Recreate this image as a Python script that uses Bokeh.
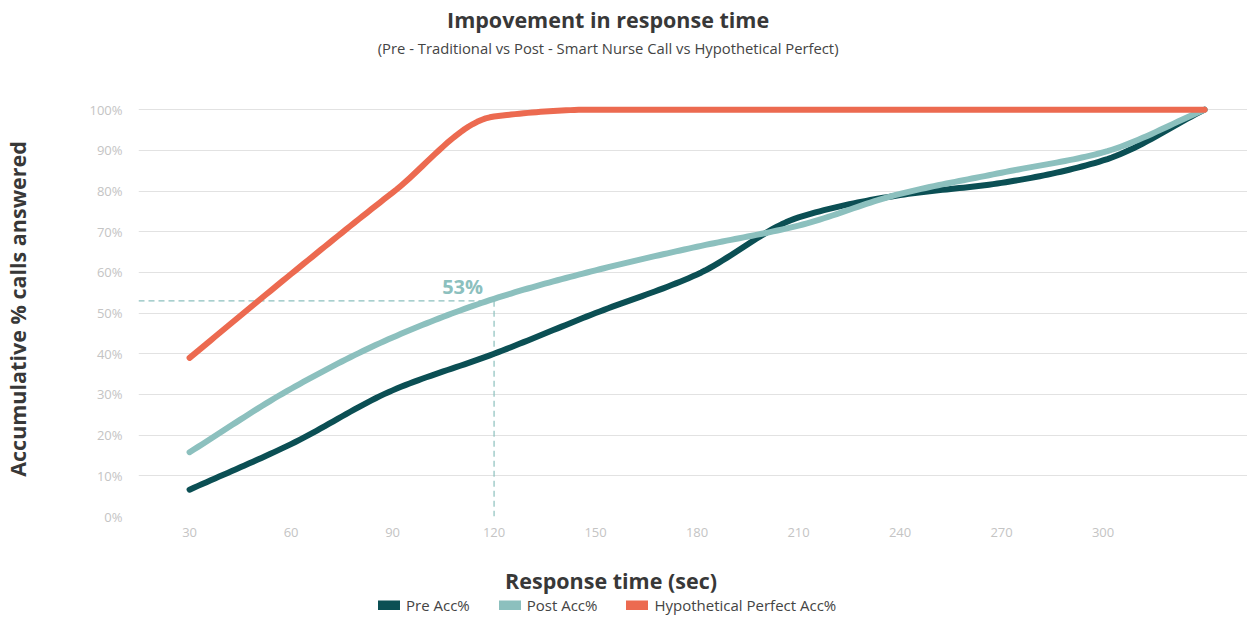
import numpy as np
from bokeh.plotting import figure
from bokeh.layouts import column
from bokeh.models import Range1d, FixedTicker, Legend, LegendItem, Label
from bokeh.embed import file_html
from bokeh.resources import INLINE

# ---------------- data ----------------
seconds = [30, 60, 90, 120, 150, 180, 210, 240, 270, 300, 330]
pre_acc = [6.6, 17.8, 31, 40, 50, 59.5, 73.5, 79, 82, 87.5, 100]
post_acc = [15.8, 31.4, 44, 53.5, 60.5, 66.3, 71.5, 79.3, 84.5, 89.5, 100]
perfect_acc = [39, 59.6, 79.6, 98.3, 100, 100, 100, 100, 100, 100, 100]
x_tick_values = [30, 60, 90, 120, 150, 180, 210, 240, 270, 300]
y_tick_values = [0, 10, 20, 30, 40, 50, 60, 70, 80, 90, 100]
y_tick_labels = ["0%", "10%", "20%", "30%", "40%", "50%", "60%", "70%", "80%", "90%", "100%"]
series_names = ["Pre Acc%", "Post Acc%", "Hypothetical Perfect Acc%"]
marker_x = 120
marker_y = 53
marker_text = "53%"

title_text = "Impovement in response time"
subtitle_text = "(Pre - Traditional vs Post - Smart Nurse Call vs Hypothetical Perfect)"
x_title = "Response time (sec)"
y_title = "Accumulative % calls answered"

# ---------------- style / layout ----------------
FONT = "Open Sans"
C_PRE = "#0b4f54"
C_POST = "#8cc0be"
C_PERF = "#ec6a50"
C_TEXT = "#383838"
C_TICK = "#c4c4c4"
C_GRID = "#e2e2e2"
COLORS = [C_PRE, C_POST, C_PERF]

W = 1239
TOP_H = 93
BOT_H = 71
FRAME_W, FRAME_H = 1109, 415
X0, X1 = 14.9, 342.7
Y0, Y1 = 0, 102


def smooth(xs, ys, n=24):
    """Monotone cubic (Fritsch-Carlson) path through the given points, for drawing."""
    xs = np.asarray(xs, float)
    ys = np.asarray(ys, float)
    h = np.diff(xs)
    d = np.diff(ys) / h
    m = np.zeros_like(ys)
    m[0], m[-1] = d[0], d[-1]
    for i in range(1, len(xs) - 1):
        if d[i - 1] * d[i] <= 0:
            m[i] = 0
        else:
            w1 = 2 * h[i] + h[i - 1]
            w2 = h[i] + 2 * h[i - 1]
            m[i] = (w1 + w2) / (w1 / d[i - 1] + w2 / d[i])
    px, py = [], []
    for i in range(len(xs) - 1):
        t = np.linspace(0, 1, n, endpoint=(i == len(xs) - 2))
        h00 = 2 * t**3 - 3 * t**2 + 1
        h10 = t**3 - 2 * t**2 + t
        h01 = -2 * t**3 + 3 * t**2
        h11 = t**3 - t**2
        px.extend(xs[i] + t * h[i])
        py.extend(h00 * ys[i] + h10 * h[i] * m[i] + h01 * ys[i + 1] + h11 * h[i] * m[i + 1])
    return px, py


def blank(height):
    # frames of a column are aligned with the main chart's frame (x: FRAME_W px wide)
    f = figure(width=W, height=height, x_range=Range1d(0, FRAME_W), y_range=Range1d(0, height),
               output_backend="svg", toolbar_location=None,
               x_axis_location=None, y_axis_location=None,
               min_border=0, background_fill_color="white", border_fill_color="white")
    f.outline_line_color = None
    f.grid.visible = False
    return f


# ---------------- title strip ----------------
top = blank(TOP_H)
top.add_layout(Label(x=473, y=TOP_H - 19, text=title_text, text_align="center",
                     text_baseline="middle", text_font=FONT, text_font_size="21.5px",
                     text_font_style="bold", text_color=C_TEXT))
top.add_layout(Label(x=473, y=TOP_H - 47, text=subtitle_text, text_align="center",
                     text_baseline="middle", text_font=FONT, text_font_size="14.8px",
                     text_color="#444444"))

# ---------------- main chart ----------------
p = figure(
    frame_width=FRAME_W, frame_height=FRAME_H,
    x_range=Range1d(X0, X1), y_range=Range1d(Y0, Y1),
    output_backend="svg", toolbar_location=None,
    min_border_left=10, min_border_right=0, min_border_top=8, min_border_bottom=32,
    background_fill_color="white", border_fill_color="white",
)
p.outline_line_color = None

p.xaxis.ticker = FixedTicker(ticks=x_tick_values)
p.yaxis.ticker = FixedTicker(ticks=y_tick_values)
p.yaxis.major_label_overrides = {v: s for v, s in zip(y_tick_values, y_tick_labels)}
for ax in (p.xaxis[0], p.yaxis[0]):
    ax.axis_line_color = None
    ax.major_tick_line_color = None
    ax.minor_tick_line_color = None
    ax.major_label_text_font = FONT
    ax.major_label_text_font_size = "13px"
    ax.major_label_text_color = C_TICK
    ax.axis_label_text_font = FONT
    ax.axis_label_text_font_size = "21.5px"
    ax.axis_label_text_font_style = "bold"
    ax.axis_label_text_color = C_TEXT
p.yaxis.axis_label = y_title
p.xaxis.major_label_standoff = 5
p.yaxis.major_label_standoff = 10
p.yaxis.axis_label_standoff = 54

p.xgrid.grid_line_color = None
p.ygrid.grid_line_color = C_GRID
p.ygrid.grid_line_width = 1

# annotation dashed guides
p.line([X0, marker_x], [marker_y, marker_y], line_color=C_POST,
       line_width=1.2, line_dash="6 4")
p.line([marker_x, marker_x], [marker_y, 0], line_color=C_POST,
       line_width=1.2, line_dash="6 4")

for ys, col in zip([pre_acc, post_acc, perfect_acc], COLORS):
    sx, sy = smooth(seconds, ys)
    p.line(sx, sy, line_color=col, line_width=6, line_cap="round", line_join="round")

p.add_layout(Label(x=marker_x, y=marker_y, x_offset=-11, y_offset=1, text=marker_text,
                   text_align="right", text_baseline="bottom", text_font=FONT,
                   text_font_size="20px", text_font_style="bold", text_color=C_POST))

# ---------------- x title + legend strip ----------------
bot = blank(BOT_H)
bot.add_layout(Label(x=476, y=BOT_H - 32, text=x_title, text_align="center",
                     text_baseline="middle", text_font=FONT, text_font_size="21.5px",
                     text_font_style="bold", text_color=C_TEXT))
items = []
for col, name in zip(COLORS, series_names):
    r = bot.line([np.nan], [np.nan], line_color=col, line_width=10, line_cap="round")
    items.append(LegendItem(label=name, renderers=[r]))
legend = Legend(items=items, orientation="horizontal", location=(240, 4),
                label_text_font=FONT, label_text_font_size="15px", label_text_color="#444444",
                glyph_width=22, glyph_height=10, spacing=29, label_standoff=6,
                padding=0, margin=0, border_line_color=None, background_fill_alpha=0)
bot.add_layout(legend, "center")

layout = column(top, p, bot, spacing=0)
open("out.html", "w").write(file_html(layout, INLINE))
